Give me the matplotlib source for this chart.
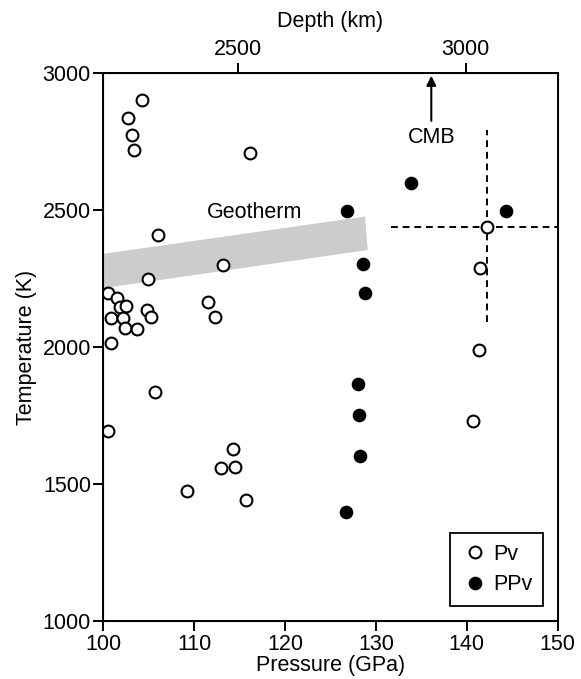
import numpy as np
import matplotlib
matplotlib.use("Agg")
import matplotlib.pyplot as plt

plt.rcParams['font.family'] = ['Liberation Sans', 'DejaVu Sans']

# Datos Pv (circulos abiertos)
pv_p = [104.3, 102.7, 103.2, 103.4, 106.0, 116.1, 113.2, 104.9, 100.55, 101.5,
        101.8, 102.5, 100.8, 102.2, 102.4, 103.7, 104.8, 105.2, 111.5, 112.25,
        100.85, 105.7, 100.55, 114.3, 113.0, 114.5, 109.2, 115.7, 142.2, 141.5,
        141.3, 140.65]
pv_t = [2900, 2835, 2773, 2719, 2409, 2709, 2299, 2248, 2196, 2178,
        2147, 2151, 2105, 2107, 2068, 2066, 2135, 2110, 2165, 2110,
        2013, 1837, 1694, 1628, 1557, 1563, 1475, 1441, 2439, 2289,
        1989, 1731]

# Datos PPv (circulos llenos)
ppv_p = [133.9, 126.8, 144.3, 128.6, 128.8, 128.0, 128.15, 128.3, 126.75]
ppv_t = [2597, 2497, 2497, 2302, 2196, 1864, 1752, 1603, 1397]

# Banda de la geoterma (esquinas)
geo_p = [100.0, 128.8, 129.1, 100.0]
geo_t = [2340, 2476, 2354, 2215]

# Cruz de error del punto Pv a 142 GPa
err_p = [131.7, 150.0]
err_t = [2091, 2792]
err_center = (142.2, 2439)

# Eje de profundidad
depth_labels = ['2500', '3000']
depth_pos = [114.8, 139.9]
cmb_p = 136.1

fs = 15.5

fig = plt.figure(figsize=(5.81, 6.79), dpi=100)
ax = fig.add_axes([0.178, 0.0854, 0.7816, 0.8071])

# geoterma
ax.fill(geo_p, geo_t, color='#cccccc', lw=0, zorder=1)
ax.text(116.6, 2490, 'Geotherm', fontsize=fs, ha='center', va='center')

# lineas discontinuas
ax.plot(err_p, [err_center[1]] * 2, color='black', ls=(0, (3.5, 2.5)), lw=1.4, zorder=2)
ax.plot([err_center[0]] * 2, err_t, color='black', ls=(0, (3.5, 2.5)), lw=1.4, zorder=2)

ax.plot(pv_p, pv_t, 'o', ms=8.5, mfc='white', mec='black', mew=1.5, ls='none', label='Pv', zorder=3)
ax.plot(ppv_p, ppv_t, 'o', ms=8.8, mfc='black', mec='black', ls='none', label='PPv', zorder=3)

# flecha CMB
ax.annotate('', xy=(cmb_p, 3000), xytext=(cmb_p, 2815),
            arrowprops=dict(arrowstyle='-|>', color='black', lw=1.5, mutation_scale=14))
ax.text(cmb_p, 2765, 'CMB', fontsize=fs, ha='center', va='center')

ax.set_xlim(100, 150)
ax.set_ylim(1000, 3000)
ax.set_xticks([100, 110, 120, 130, 140, 150])
ax.set_yticks([1000, 1500, 2000, 2500, 3000])
ax.tick_params(labelsize=fs, width=1.4, length=7, direction='out', pad=2)
ax.set_xlabel('Pressure (GPa)', fontsize=fs, labelpad=0)
ax.set_ylabel('Temperature (K)', fontsize=fs, labelpad=4)
for s in ax.spines.values():
    s.set_linewidth(1.4)

ax2 = ax.twiny()
ax2.set_xlim(100, 150)
ax2.set_xticks(depth_pos)
ax2.set_xticklabels(depth_labels)
ax2.tick_params(labelsize=fs, width=1.4, length=7, direction='out', pad=2)
ax2.set_xlabel('Depth (km)', fontsize=fs, labelpad=9)

leg = ax.legend(loc='lower right', bbox_to_anchor=(0.968, 0.027), borderaxespad=0,
                fontsize=fs, fancybox=False, edgecolor='black', framealpha=1,
                handletextpad=0.2, handlelength=1.3, borderpad=0.5, labelspacing=0.45)
leg.get_frame().set_linewidth(1.3)

fig.savefig('out.png', dpi=100)
